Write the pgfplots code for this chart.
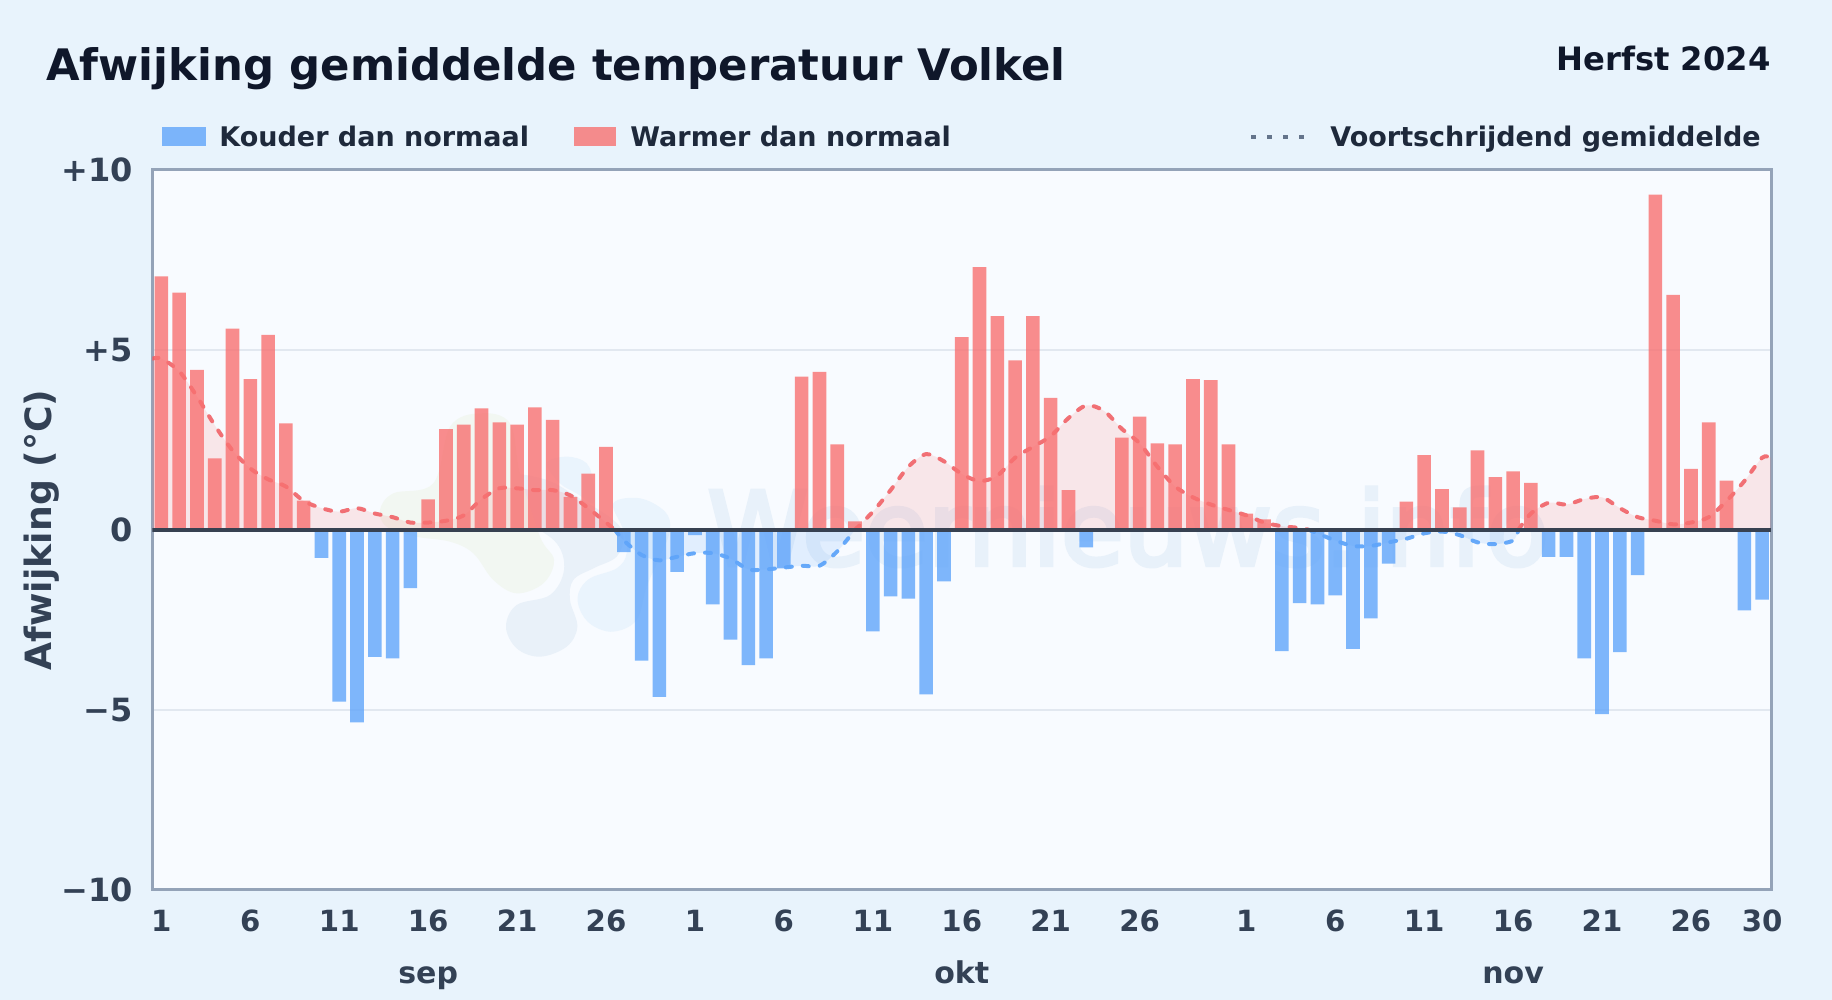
\documentclass[border=0pt]{standalone}
\usepackage{fontspec}
\setmainfont{DejaVu Sans}
\newfontfamily\markfont[FakeBold=4]{DejaVu Sans}
\usepackage{pgfplots}
\usepackage{pgfplotstable}
\pgfplotsset{compat=1.18}

\definecolor{pagebg}{HTML}{E8F3FC}
\definecolor{plotbg}{HTML}{F8FBFF}
\definecolor{frame}{HTML}{94A3B8}
\definecolor{gridc}{HTML}{E2E8F0}
\definecolor{zeroc}{HTML}{374151}
\definecolor{titlec}{HTML}{0F172A}
\definecolor{textc}{HTML}{1E293B}
\definecolor{tickc}{HTML}{334155}
\definecolor{warm}{HTML}{F87171}
\definecolor{cold}{HTML}{60A5FA}
\definecolor{warmline}{HTML}{F05A5F}
\definecolor{coldline}{HTML}{4F9CF9}
\definecolor{dotc}{HTML}{64748B}
\definecolor{logogrey}{HTML}{E9F1F9}
\definecolor{logogreen}{HTML}{F2F7F2}
\definecolor{logoblue}{HTML}{EAF4FD}
\definecolor{markc}{HTML}{E8F1FA}

% day index (0 = 1 sep), deviation in degrees
\pgfplotstableread{
x y
0 7.03
1 6.58
2 4.44
3 1.98
4 5.58
5 4.18
6 5.41
7 2.95
8 0.81
15 0.84
16 2.79
17 2.92
18 3.37
19 2.98
20 2.92
21 3.40
22 3.05
23 0.91
24 1.56
25 2.30
36 4.25
37 4.38
38 2.37
39 0.23
45 5.35
46 7.29
47 5.93
48 4.70
49 5.93
50 3.66
51 1.10
54 2.56
55 3.14
56 2.40
57 2.37
58 4.18
59 4.15
60 2.37
61 0.45
62 0.29
70 0.78
71 2.07
72 1.13
73 0.62
74 2.20
75 1.46
76 1.62
77 1.30
84 9.30
85 6.52
86 1.69
87 2.98
88 1.36
}\warmdays

\pgfplotstableread{
x y
9 -0.78
10 -4.77
11 -5.35
12 -3.53
13 -3.57
14 -1.62
26 -0.62
27 -3.63
28 -4.64
29 -1.17
30 -0.15
31 -2.07
32 -3.05
33 -3.76
34 -3.57
35 -1.07
40 -2.82
41 -1.85
42 -1.91
43 -4.57
44 -1.43
52 -0.49
53 -0.05
63 -3.37
64 -2.04
65 -2.07
66 -1.82
67 -3.31
68 -2.46
69 -0.94
78 -0.75
79 -0.75
80 -3.57
81 -5.12
82 -3.40
83 -1.26
89 -2.24
90 -1.94
}\colddays

% moving average, split at the zero crossings
\pgfplotstableread{
x y
-0.5 4.75
0 4.75
1 4.4
2 3.7
3 2.9
4 2.2
5 1.7
6 1.4
7 1.2
8 0.8
9 0.6
10 0.5
11 0.6
12 0.45
13 0.35
14 0.2
15 0.2
16 0.25
17 0.4
18 0.85
19 1.15
20 1.15
21 1.1
22 1.1
23 0.95
24 0.6
25 0.2
25.5 0
}\avgwarmA
\pgfplotstableread{
x y
25.5 0
26 -0.3
27 -0.7
28 -0.85
29 -0.75
30 -0.65
31 -0.65
32 -0.8
33 -1.1
34 -1.1
35 -1.05
36 -1.0
37 -1.0
38 -0.6
39 0
}\avgcoldA
\pgfplotstableread{
x y
39 0
40 0.5
41 1.1
42 1.75
43 2.1
44 1.9
45 1.55
46 1.35
47 1.5
48 2.0
49 2.3
50 2.6
51 3.1
52 3.45
53 3.3
54 2.8
55 2.4
56 1.75
57 1.2
58 0.9
59 0.7
60 0.55
61 0.4
62 0.2
63 0.1
64 0.05
64.5 0
}\avgwarmB
\pgfplotstableread{
x y
64.5 0
65 -0.1
66 -0.3
67 -0.45
68 -0.45
69 -0.35
70 -0.25
71 -0.1
72 -0.05
73 -0.15
74 -0.35
75 -0.4
76 -0.3
76.3 0
}\avgcoldB
\pgfplotstableread{
x y
76.3 0
77 0.45
78 0.75
79 0.7
80 0.85
81 0.9
82 0.6
83 0.35
84 0.25
85 0.15
86 0.2
87 0.35
88 0.8
89 1.35
90 2.0
90.5 2.0
}\avgwarmC

\pgfplotsset{
    avgline/.style={opacity=0.85,smooth,line width=2pt,line cap=round,dash pattern=on 3pt off 5.5pt},
    avgarea/.style={draw=none,fill opacity=0.15,smooth},
}

\begin{document}
\begin{tikzpicture}[x=0.5pt,y=0.5pt]
\fill[pagebg] (0,0) rectangle (1832,1000);
\useasboundingbox (0,0) rectangle (1832,1000);
\fill[plotbg] (152.5,110) rectangle (1771,830.5);

% logo and name of the site behind the plot
\begin{scope}[shift={(360,620)},x=0.16667pt,y=-0.16667pt]
\fill[logogrey] plot[smooth cycle,tension=0.6] coordinates {(340,300)(440,280)(560,300)(650,350)(760,420)(790,470)(770,530)(700,565)(640,600)(630,660)(652,740)(620,800)(540,830)(470,805)(438,740)(470,675)(570,645)(612,570)(590,490)(500,430)(380,380)};
\fill[logogreen] plot[smooth cycle,tension=0.6] coordinates {(60,390)(100,340)(220,310)(270,140)(360,100)(450,130)(480,280)(540,470)(582,540)(550,610)(470,640)(400,600)(340,520)(270,485)(170,470)(80,440)};
\fill[logoblue] plot[smooth cycle,tension=0.6] coordinates {(760,370)(840,355)(915,395)(930,450)(900,530)(860,620)(830,720)(760,755)(695,735)(660,690)(655,640)(690,595)(770,565)(800,520)(790,450)};
\fill[logoblue] plot[smooth cycle,tension=0.6] coordinates {(560,250)(620,230)(680,250)(700,310)(700,370)(650,340)(600,310)};
\end{scope}
\node[anchor=base west,inner sep=0,text=markc,font=\markfont\fontsize{51}{60}\selectfont] at (707,435) {Weernieuws.info};

\node[anchor=base west,inner sep=0,text=titlec,font=\bfseries\fontsize{21.7}{26}\selectfont] at (46,919.5) {Afwijking gemiddelde temperatuur Volkel};
\node[anchor=base east,inner sep=0,text=titlec,font=\bfseries\fontsize{16.1}{19}\selectfont] at (1771,929) {Herfst 2024};

% legend row
\fill[cold,opacity=0.8] (162,854) rectangle (206,873);
\node[anchor=base west,inner sep=0,text=textc,font=\bfseries\fontsize{13.5}{16}\selectfont] at (219,853) {Kouder dan normaal};
\fill[warm,opacity=0.8] (574,854) rectangle (616,873);
\node[anchor=base west,inner sep=0,text=textc,font=\bfseries\fontsize{13.5}{16}\selectfont] at (630,853) {Warmer dan normaal};
\draw[dotc,line width=2pt,dash pattern=on 2.5pt off 5.5pt] (1251,863) -- (1310,863);
\node[anchor=base west,inner sep=0,text=textc,font=\bfseries\fontsize{13.5}{16}\selectfont] at (1330,853) {Voortschrijdend gemiddelde};

\node[rotate=90,anchor=base,inner sep=0,text=tickc,font=\bfseries\fontsize{18.1}{22}\selectfont] at (51,470) {Afwijking (°C)};

\begin{axis}[
    at={(76.25pt,55pt)},
    anchor=south west,
    scale only axis,
    width=809.25pt,
    height=360.25pt,
    xmin=-0.5, xmax=90.5,
    ymin=-10, ymax=10,
    axis line style={frame,line width=1.5pt},
    ytick={-10,-5,0,5,10},
    yticklabels={−10,−5,0,+5,+10},
    xtick={0,5,10,15,20,25,30,35,40,45,50,55,61,66,71,76,81,86,90},
    xticklabels={1,6,11,16,21,26,1,6,11,16,21,26,1,6,11,16,21,26,30},
    major tick length=0pt,
    ymajorgrids,
    grid style={gridc,line width=1pt},
    xticklabel style={text=tickc,font=\bfseries\fontsize{14.6}{18}\selectfont,yshift=-6.5pt},
    yticklabel style={text=tickc,font=\bfseries\fontsize{16}{18}\selectfont,xshift=-6.3pt},
    clip mode=individual,
]
% shaded area under the moving average
\addplot[avgarea,fill=warm] table {\avgwarmA} \closedcycle;
\addplot[avgarea,fill=cold] table {\avgcoldA} \closedcycle;
\addplot[avgarea,fill=warm] table {\avgwarmB} \closedcycle;
\addplot[avgarea,fill=cold] table {\avgcoldB} \closedcycle;
\addplot[avgarea,fill=warm] table {\avgwarmC} \closedcycle;

% moving average
\addplot[avgline,warmline] table {\avgwarmA};
\addplot[avgline,coldline] table {\avgcoldA};
\addplot[avgline,warmline] table {\avgwarmB};
\addplot[avgline,coldline] table {\avgcoldB};
\addplot[avgline,warmline] table {\avgwarmC};

% daily bars
\addplot[ybar,bar width=6.8pt,bar shift=0pt,draw=none,fill=warm,fill opacity=0.8] table {\warmdays};
\addplot[ybar,bar width=6.8pt,bar shift=0pt,draw=none,fill=cold,fill opacity=0.8] table {\colddays};

% zero line
\addplot[zeroc,line width=1.8pt] coordinates {(-0.5,0) (90.5,0)};

\node[anchor=base,text=tickc,font=\bfseries\fontsize{15}{18}\selectfont] at (axis cs:15,-10) [yshift=-46.7pt] {sep};
\node[anchor=base,text=tickc,font=\bfseries\fontsize{15}{18}\selectfont] at (axis cs:45,-10) [yshift=-46.7pt] {okt};
\node[anchor=base,text=tickc,font=\bfseries\fontsize{15}{18}\selectfont] at (axis cs:76,-10) [yshift=-46.7pt] {nov};
\end{axis}
\end{tikzpicture}
\end{document}
